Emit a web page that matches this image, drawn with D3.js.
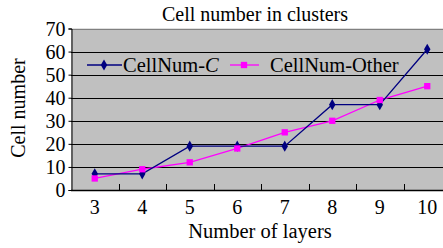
<!DOCTYPE html>
<html>
<head>
<meta charset="utf-8">
<script src="https://cdn.jsdelivr.net/npm/d3@7"></script>
<style>
  body { margin: 0; background: #fff; }
  text { font-family: "Liberation Serif", "Times New Roman", serif; fill: #000; }
</style>
</head>
<body>
<div class="container"></div>
<script>
const layers = ['3', '4', '5', '6', '7', '8', '9', '10'];
const cellNumC = [7, 7, 19, 19, 19, 37, 37, 61];
const cellNumOther = [5, 9, 12, 18, 25, 30, 39, 45];
const yTicks = [0, 10, 20, 30, 40, 50, 60, 70];

const width = 443;
const height = 248;
const padding = { top: 28.5, left: 71, right: -8, bottom: 58 };

const xScale = d3.scaleBand()
  .domain(layers)
  .range([padding.left, width - padding.right]);

const yScale = d3.scaleLinear()
  .domain([0, 70])
  .range([height - padding.bottom, padding.top]);

const svg = d3.select('.container')
  .append('svg')
  .attr('width', width)
  .attr('height', height);

// plot background
svg.append('rect')
  .attr('x', xScale.range()[0])
  .attr('y', yScale(70))
  .attr('width', xScale.range()[1] - xScale.range()[0])
  .attr('height', yScale(0) - yScale(70))
  .attr('fill', '#c0c0c0');

// gridlines
svg.append('g')
  .selectAll('line')
  .data(yTicks.filter(d => d > 0))
  .enter()
  .append('line')
  .attr('x1', padding.left)
  .attr('x2', width)
  .attr('y1', d => Math.round(yScale(d)) + 0.5)
  .attr('y2', d => Math.round(yScale(d)) + 0.5)
  .attr('stroke', d => d === 70 ? '#808080' : '#000')
  .attr('stroke-width', 1);

// y axis
const yAxis = d3.axisLeft(yScale).tickValues(yTicks).tickSize(3).tickPadding(3);
const gy = svg.append('g')
  .attr('transform', `translate(${padding.left + 0.5}, 0)`)
  .call(yAxis);
gy.selectAll('text').style('font-size', '20px').attr('dy', '0.34em');
gy.select('.domain').attr('stroke', '#000');

// x axis
const xAxis = d3.axisBottom(xScale).tickSize(0);
const gx = svg.append('g')
  .attr('transform', `translate(0, ${Math.round(yScale(0)) + 0.5})`)
  .call(xAxis);
gx.selectAll('text').style('font-size', '20px').attr('y', 23).attr('dy', 0);
gx.select('.domain').attr('d', `M${padding.left},0H${width}`).attr('stroke', '#000').attr('stroke-width', 1.5);

// category boundary ticks (pointing up)
svg.append('g')
  .selectAll('line')
  .data(layers.slice(1))
  .enter()
  .append('line')
  .attr('x1', d => Math.round(xScale(d)) + 0.5)
  .attr('x2', d => Math.round(xScale(d)) + 0.5)
  .attr('y1', yScale(0))
  .attr('y2', yScale(0) - 6)
  .attr('stroke', '#000');

const cx = d => xScale(d) + xScale.bandwidth() / 2;

const lineC = d3.line().x((d, i) => cx(layers[i])).y(d => yScale(d));

// other series
svg.append('path')
  .attr('d', lineC(cellNumOther))
  .attr('fill', 'none')
  .attr('stroke', '#ff00ff')
  .attr('stroke-width', 1.3);

svg.append('path')
  .attr('d', lineC(cellNumC))
  .attr('fill', 'none')
  .attr('stroke', '#000080')
  .attr('stroke-width', 1.3);

const diamond = d3.symbol().type(d3.symbolDiamond).size(36);
const square = d3.symbol().type(d3.symbolSquare).size(40);

svg.append('g')
  .selectAll('path')
  .data(cellNumC)
  .enter()
  .append('path')
  .attr('d', diamond)
  .attr('transform', (d, i) => `translate(${cx(layers[i])}, ${yScale(d)})`)
  .attr('fill', '#000080');

svg.append('g')
  .selectAll('path')
  .data(cellNumOther)
  .enter()
  .append('path')
  .attr('d', square)
  .attr('transform', (d, i) => `translate(${cx(layers[i])}, ${yScale(d)})`)
  .attr('fill', '#ff00ff');

// legend
const legend = svg.append('g');
legend.append('line').attr('x1', 87).attr('x2', 122).attr('y1', 65).attr('y2', 65)
  .attr('stroke', '#000080').attr('stroke-width', 1.3);
legend.append('path').attr('d', diamond).attr('transform', 'translate(104, 65)').attr('fill', '#000080');
const t1 = legend.append('text').attr('x', 123).attr('y', 72).style('font-size', '20.5px');
t1.append('tspan').text('CellNum-');
t1.append('tspan').style('font-style', 'italic').text('C');

legend.append('line').attr('x1', 230).attr('x2', 259).attr('y1', 65).attr('y2', 65)
  .attr('stroke', '#ff00ff').attr('stroke-width', 1.3);
legend.append('path').attr('d', square).attr('transform', 'translate(244, 65)').attr('fill', '#ff00ff');
legend.append('text').attr('x', 270).attr('y', 72).style('font-size', '20.5px').text('CellNum-Other');

// title and axis labels
svg.append('text')
  .attr('x', 255).attr('y', 21)
  .attr('text-anchor', 'middle')
  .style('font-size', '20px')
  .text('Cell number in clusters');

svg.append('text')
  .attr('x', 260).attr('y', 238)
  .attr('text-anchor', 'middle')
  .style('font-size', '20.5px')
  .text('Number of layers');

svg.append('text')
  .attr('transform', 'translate(25, 108) rotate(-90)')
  .attr('text-anchor', 'middle')
  .style('font-size', '20px')
  .text('Cell number');
</script>
</body>
</html>
